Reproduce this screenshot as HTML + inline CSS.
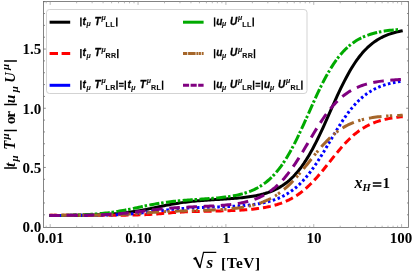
<!DOCTYPE html>
<html><head><meta charset="utf-8"><title>plot</title>
<style>
html,body{margin:0;padding:0;background:#fff;}
body{width:413px;height:271px;overflow:hidden;position:relative;}
svg{display:block;position:absolute;left:0;top:0;will-change:transform;}
text{font-family:"Liberation Serif",serif;font-weight:bold;fill:#000;}
.lg{font-family:"Liberation Sans",sans-serif;font-weight:bold;font-style:italic;font-size:10px;fill:#000;stroke:#000;stroke-width:0.3px;}
.lgs{font-family:"Liberation Sans",sans-serif;font-weight:bold;font-style:normal;font-size:7.1px;letter-spacing:0.35px;fill:#111;stroke:#111;stroke-width:0.15px;}
.lgm{font-family:"Liberation Sans",sans-serif;font-weight:bold;font-style:italic;font-size:7px;fill:#111;stroke:#111;stroke-width:0.15px;}
</style></head><body>
<svg width="413" height="271" viewBox="0 0 413 271">
<rect x="0" y="0" width="413" height="271" fill="#fff"/>

<g fill="none" stroke-linecap="butt" stroke-linejoin="round">
<path d="M49.30,215.54L51.07,215.53L52.83,215.52L54.60,215.51L56.37,215.51L58.13,215.50L59.90,215.49L61.67,215.48L63.44,215.46L65.20,215.45L66.97,215.44L68.74,215.42L70.50,215.40L72.27,215.39L74.04,215.36L75.80,215.34L77.57,215.32L79.34,215.29L81.11,215.26L82.87,215.23L84.64,215.20L86.41,215.16L88.17,215.12L89.94,215.07L91.71,215.02L93.47,214.97L95.24,214.91L97.01,214.85L98.78,214.78L100.54,214.71L102.31,214.63L104.08,214.54L105.84,214.44L107.61,214.34L109.38,214.23L111.14,214.11L112.91,213.99L114.68,213.85L116.45,213.70L118.21,213.54L119.98,213.37L121.75,213.19L123.51,213.00L125.28,212.79L127.05,212.57L128.81,212.34L130.58,212.10L132.35,211.84L134.12,211.57L135.88,211.29L137.65,210.99L139.42,210.68L141.18,210.37L142.95,210.04L144.72,209.70L146.49,209.35L148.25,209.00L150.02,208.63L151.79,208.27L153.55,207.90L155.32,207.53L157.09,207.16L158.85,206.79L160.62,206.42L162.39,206.05L164.16,205.70L165.92,205.34L167.69,205.00L169.46,204.66L171.22,204.34L172.99,204.02L174.76,203.72L176.52,203.43L178.29,203.15L180.06,202.88L181.82,202.63L183.59,202.38L185.36,202.15L187.13,201.93L188.89,201.72L190.66,201.53L192.43,201.34L194.19,201.16L195.96,201.00L197.73,200.84L199.50,200.69L201.26,200.55L203.03,200.41L204.80,200.28L206.56,200.16L208.33,200.04L210.10,199.93L211.86,199.82L213.63,199.71L215.40,199.60L217.17,199.49L218.93,199.39L220.70,199.28L222.47,199.18L224.23,199.07L226.00,198.96L227.77,198.84L229.53,198.73L231.30,198.60L233.07,198.47L234.83,198.33L236.60,198.19L238.37,198.03L240.14,197.87L241.90,197.69L243.67,197.50L245.44,197.29L247.20,197.07L248.97,196.83L250.74,196.57L252.50,196.29L254.27,195.98L256.04,195.65L257.81,195.29L259.57,194.90L261.34,194.48L263.11,194.02L264.87,193.52L266.64,192.97L268.41,192.38L270.18,191.74L271.94,191.05L273.71,190.30L275.48,189.48L277.24,188.59L279.01,187.64L280.78,186.60L282.54,185.48L284.31,184.27L286.08,182.97L287.84,181.57L289.61,180.06L291.38,178.44L293.15,176.71L294.91,174.86L296.68,172.87L298.45,170.76L300.21,168.52L301.98,166.13L303.75,163.61L305.51,160.95L307.28,158.14L309.05,155.20L310.82,152.12L312.58,148.91L314.35,145.57L316.12,142.11L317.88,138.53L319.65,134.86L321.42,131.10L323.19,127.26L324.95,123.36L326.72,119.42L328.49,115.44L330.25,111.45L332.02,107.47L333.79,103.51L335.55,99.59L337.32,95.72L339.09,91.93L340.85,88.21L342.62,84.60L344.39,81.09L346.16,77.70L347.92,74.44L349.69,71.31L351.46,68.31L353.22,65.46L354.99,62.75L356.76,60.19L358.52,57.77L360.29,55.49L362.06,53.35L363.83,51.34L365.59,49.46L367.36,47.71L369.13,46.08L370.89,44.56L372.66,43.15L374.43,41.85L376.19,40.64L377.96,39.53L379.73,38.50L381.50,37.55L383.26,36.67L385.03,35.87L386.80,35.13L388.56,34.45L390.33,33.83L392.10,33.26L393.87,32.74L395.63,32.26L397.40,31.82L399.17,31.42L400.93,31.05L402.70,30.71" stroke="#000000" stroke-width="3.0"/>
<path d="M49.30,215.27L51.07,215.27L52.83,215.27L54.60,215.27L56.37,215.27L58.13,215.27L59.90,215.27L61.67,215.27L63.44,215.27L65.20,215.27L66.97,215.27L68.74,215.27L70.50,215.27L72.27,215.27L74.04,215.27L75.80,215.27L77.57,215.27L79.34,215.27L81.11,215.27L82.87,215.27L84.64,215.27L86.41,215.27L88.17,215.26L89.94,215.26L91.71,215.26L93.47,215.26L95.24,215.26L97.01,215.26L98.78,215.26L100.54,215.25L102.31,215.25L104.08,215.25L105.84,215.24L107.61,215.24L109.38,215.23L111.14,215.23L112.91,215.22L114.68,215.21L116.45,215.20L118.21,215.19L119.98,215.18L121.75,215.17L123.51,215.15L125.28,215.13L127.05,215.11L128.81,215.09L130.58,215.06L132.35,215.03L134.12,214.99L135.88,214.95L137.65,214.90L139.42,214.85L141.18,214.79L142.95,214.72L144.72,214.65L146.49,214.57L148.25,214.48L150.02,214.38L151.79,214.28L153.55,214.16L155.32,214.04L157.09,213.91L158.85,213.77L160.62,213.63L162.39,213.49L164.16,213.34L165.92,213.19L167.69,213.05L169.46,212.90L171.22,212.76L172.99,212.62L174.76,212.49L176.52,212.37L178.29,212.26L180.06,212.15L181.82,212.05L183.59,211.96L185.36,211.87L187.13,211.79L188.89,211.72L190.66,211.65L192.43,211.59L194.19,211.54L195.96,211.49L197.73,211.44L199.50,211.40L201.26,211.35L203.03,211.31L204.80,211.27L206.56,211.24L208.33,211.20L210.10,211.16L211.86,211.12L213.63,211.08L215.40,211.04L217.17,211.00L218.93,210.96L220.70,210.91L222.47,210.87L224.23,210.81L226.00,210.76L227.77,210.70L229.53,210.64L231.30,210.57L233.07,210.50L234.83,210.42L236.60,210.33L238.37,210.24L240.14,210.14L241.90,210.03L243.67,209.91L245.44,209.79L247.20,209.65L248.97,209.50L250.74,209.34L252.50,209.16L254.27,208.97L256.04,208.77L257.81,208.54L259.57,208.30L261.34,208.04L263.11,207.76L264.87,207.45L266.64,207.12L268.41,206.76L270.18,206.38L271.94,205.96L273.71,205.51L275.48,205.02L277.24,204.50L279.01,203.93L280.78,203.33L282.54,202.67L284.31,201.97L286.08,201.22L287.84,200.41L289.61,199.54L291.38,198.61L293.15,197.62L294.91,196.57L296.68,195.44L298.45,194.25L300.21,192.98L301.98,191.64L303.75,190.22L305.51,188.73L307.28,187.16L309.05,185.51L310.82,183.79L312.58,181.99L314.35,180.13L316.12,178.20L317.88,176.21L319.65,174.16L321.42,172.07L323.19,169.93L324.95,167.75L326.72,165.55L328.49,163.34L330.25,161.11L332.02,158.89L333.79,156.68L335.55,154.49L337.32,152.33L339.09,150.22L340.85,148.14L342.62,146.13L344.39,144.17L346.16,142.28L347.92,140.47L349.69,138.73L351.46,137.06L353.22,135.48L354.99,133.98L356.76,132.57L358.52,131.23L360.29,129.98L362.06,128.80L363.83,127.70L365.59,126.67L367.36,125.72L369.13,124.83L370.89,124.01L372.66,123.25L374.43,122.54L376.19,121.89L377.96,121.30L379.73,120.75L381.50,120.24L383.26,119.78L385.03,119.35L386.80,118.96L388.56,118.61L390.33,118.28L392.10,117.98L393.87,117.71L395.63,117.46L397.40,117.24L399.17,117.03L400.93,116.84L402.70,116.67" stroke="#ff0000" stroke-width="3.0" stroke-dasharray="7.92 3.965" stroke-dashoffset="0"/>
<path d="M49.30,215.40L51.06,215.40L52.82,215.40L54.58,215.40L56.35,215.39L58.11,215.39L59.87,215.39L61.63,215.39L63.39,215.38L65.15,215.38L66.91,215.38L68.68,215.37L70.44,215.37L72.20,215.36L73.96,215.36L75.72,215.35L77.48,215.34L79.25,215.33L81.01,215.32L82.77,215.31L84.53,215.30L86.29,215.29L88.05,215.28L89.81,215.26L91.58,215.25L93.34,215.23L95.10,215.21L96.86,215.19L98.62,215.16L100.38,215.13L102.14,215.10L103.91,215.07L105.67,215.03L107.43,214.99L109.19,214.95L110.95,214.90L112.71,214.84L114.48,214.78L116.24,214.72L118.00,214.65L119.76,214.57L121.52,214.49L123.28,214.40L125.04,214.30L126.81,214.19L128.57,214.08L130.33,213.95L132.09,213.82L133.85,213.68L135.61,213.53L137.38,213.37L139.14,213.20L140.90,213.03L142.66,212.84L144.42,212.65L146.18,212.45L147.94,212.25L149.71,212.04L151.47,211.82L153.23,211.61L154.99,211.39L156.75,211.17L158.51,210.95L160.27,210.73L162.04,210.52L163.80,210.30L165.56,210.10L167.32,209.90L169.08,209.71L170.84,209.52L172.61,209.34L174.37,209.17L176.13,209.01L177.89,208.86L179.65,208.71L181.41,208.58L183.17,208.45L184.94,208.33L186.70,208.21L188.46,208.11L190.22,208.01L191.98,207.92L193.74,207.83L195.50,207.75L197.27,207.67L199.03,207.59L200.79,207.52L202.55,207.46L204.31,207.39L206.07,207.33L207.83,207.27L209.60,207.21L211.36,207.15L213.12,207.09L214.88,207.03L216.64,206.97L218.40,206.91L220.17,206.85L221.93,206.79L223.69,206.72L225.45,206.65L227.21,206.57L228.97,206.49L230.73,206.41L232.50,206.32L234.26,206.22L236.02,206.12L237.78,206.00L239.54,205.88L241.30,205.75L243.06,205.61L244.83,205.46L246.59,205.29L248.35,205.12L250.11,204.92L251.87,204.71L253.63,204.48L255.40,204.23L257.16,203.97L258.92,203.67L260.68,203.36L262.44,203.01L264.20,202.64L265.96,202.24L267.73,201.80L269.49,201.32L271.25,200.81L273.01,200.25L274.77,199.65L276.53,198.99L278.30,198.29L280.06,197.53L281.82,196.71L283.58,195.82L285.34,194.87L287.10,193.85L288.86,192.75L290.63,191.57L292.39,190.30L294.15,188.95L295.91,187.51L297.67,185.97L299.43,184.33L301.19,182.60L302.96,180.76L304.72,178.82L306.48,176.77L308.24,174.62L310.00,172.37L311.76,170.02L313.53,167.57L315.29,165.02L317.05,162.40L318.81,159.69L320.57,156.91L322.33,154.07L324.09,151.18L325.86,148.24L327.62,145.28L329.38,142.30L331.14,139.32L332.90,136.35L334.66,133.41L336.42,130.50L338.19,127.63L339.95,124.83L341.71,122.09L343.47,119.44L345.23,116.87L346.99,114.39L348.75,112.01L350.52,109.74L352.28,107.57L354.04,105.51L355.80,103.56L357.56,101.72L359.32,99.98L361.09,98.35L362.85,96.83L364.61,95.41L366.37,94.08L368.13,92.84L369.89,91.69L371.65,90.63L373.42,89.65L375.18,88.74L376.94,87.90L378.70,87.12L380.46,86.41L382.22,85.76L383.99,85.16L385.75,84.61L387.51,84.10L389.27,83.64L391.03,83.22L392.79,82.83L394.55,82.48L396.32,82.15L398.08,81.86L399.84,81.59L401.60,81.34" stroke="#0000ff" stroke-width="3.0" stroke-dasharray="2.6 2.5" stroke-dashoffset="0"/>
<path d="M49.30,215.55L51.05,215.53L52.81,215.51L54.56,215.49L56.32,215.47L58.07,215.45L59.83,215.42L61.58,215.40L63.34,215.36L65.09,215.33L66.85,215.29L68.60,215.26L70.36,215.21L72.11,215.17L73.87,215.11L75.62,215.06L77.38,215.00L79.13,214.94L80.89,214.86L82.64,214.79L84.40,214.71L86.16,214.62L87.91,214.52L89.66,214.42L91.42,214.31L93.17,214.19L94.93,214.06L96.69,213.92L98.44,213.77L100.19,213.61L101.95,213.44L103.70,213.26L105.46,213.07L107.22,212.87L108.97,212.65L110.72,212.42L112.48,212.18L114.23,211.92L115.99,211.66L117.74,211.38L119.50,211.09L121.25,210.78L123.01,210.47L124.77,210.15L126.52,209.81L128.27,209.47L130.03,209.12L131.78,208.76L133.54,208.40L135.30,208.03L137.05,207.67L138.81,207.30L140.56,206.93L142.31,206.56L144.07,206.19L145.82,205.83L147.58,205.48L149.33,205.13L151.09,204.79L152.84,204.46L154.60,204.14L156.36,203.82L158.11,203.52L159.87,203.23L161.62,202.96L163.38,202.69L165.13,202.44L166.88,202.19L168.64,201.96L170.39,201.74L172.15,201.53L173.91,201.33L175.66,201.14L177.42,200.97L179.17,200.79L180.93,200.63L182.68,200.48L184.44,200.33L186.19,200.19L187.94,200.05L189.70,199.92L191.45,199.80L193.21,199.67L194.96,199.55L196.72,199.43L198.48,199.32L200.23,199.20L201.99,199.08L203.74,198.97L205.50,198.85L207.25,198.72L209.00,198.60L210.76,198.46L212.51,198.33L214.27,198.18L216.02,198.03L217.78,197.87L219.54,197.70L221.29,197.52L223.05,197.32L224.80,197.11L226.56,196.89L228.31,196.65L230.06,196.39L231.82,196.10L233.57,195.80L235.33,195.46L237.08,195.10L238.84,194.71L240.59,194.29L242.35,193.83L244.11,193.33L245.86,192.79L247.62,192.21L249.37,191.57L251.12,190.88L252.88,190.13L254.63,189.32L256.39,188.45L258.14,187.50L259.90,186.48L261.65,185.37L263.41,184.18L265.17,182.89L266.92,181.50L268.68,180.02L270.43,178.42L272.19,176.71L273.94,174.88L275.69,172.92L277.45,170.84L279.20,168.63L280.96,166.28L282.71,163.79L284.47,161.16L286.23,158.40L287.98,155.50L289.74,152.46L291.49,149.29L293.25,146.00L295.00,142.59L296.75,139.06L298.51,135.44L300.26,131.72L302.02,127.93L303.77,124.08L305.53,120.18L307.29,116.25L309.04,112.31L310.80,108.37L312.55,104.44L314.31,100.55L316.06,96.72L317.81,92.95L319.57,89.26L321.32,85.67L323.08,82.18L324.84,78.80L326.59,75.55L328.35,72.43L330.10,69.45L331.86,66.60L333.61,63.89L335.37,61.33L337.12,58.90L338.88,56.62L340.63,54.47L342.38,52.46L344.14,50.57L345.90,48.81L347.65,47.18L349.41,45.65L351.16,44.23L352.92,42.92L354.67,41.70L356.43,40.58L358.18,39.54L359.94,38.58L361.69,37.70L363.44,36.89L365.20,36.14L366.95,35.46L368.71,34.83L370.47,34.25L372.22,33.72L373.98,33.23L375.73,32.79L377.49,32.38L379.24,32.01L381.00,31.67L382.75,31.36L384.50,31.07L386.26,30.81L388.01,30.58L389.77,30.36L391.53,30.16L393.28,29.98L395.04,29.82L396.79,29.66L398.55,29.53L400.30,29.40" stroke="#00aa00" stroke-width="3.0" stroke-dasharray="10.15 1.79 2.49 2.384" stroke-dashoffset="0"/>
<path d="M402.70,115.26L400.93,115.32L399.17,115.38L397.40,115.45L395.63,115.53L393.87,115.61L392.10,115.71L390.33,115.81L388.56,115.92L386.80,116.04L385.03,116.18L383.26,116.32L381.50,116.49L379.73,116.67L377.96,116.86L376.19,117.08L374.43,117.31L372.66,117.57L370.89,117.86L369.13,118.17L367.36,118.51L365.59,118.88L363.83,119.28L362.06,119.72L360.29,120.21L358.52,120.73L356.76,121.30L354.99,121.93L353.22,122.60L351.46,123.33L349.69,124.12L347.92,124.97L346.16,125.89L344.39,126.88L342.62,127.94L340.86,129.08L339.09,130.30L337.32,131.59L335.55,132.97L333.79,134.43L332.02,135.97L330.25,137.59L328.49,139.30L326.72,141.08L324.95,142.93L323.19,144.86L321.42,146.85L319.65,148.90L317.88,151.00L316.12,153.14L314.35,155.32L312.58,157.52L310.82,159.74L309.05,161.97L307.28,164.19L305.51,166.40L303.75,168.59L301.98,170.75L300.21,172.87L298.45,174.94L296.68,176.95L294.91,178.91L293.15,180.81L291.38,182.63L289.61,184.38L287.84,186.06L286.08,187.66L284.31,189.19L282.54,190.64L280.78,192.01L279.01,193.30L277.24,194.53L275.48,195.68L273.71,196.76L271.94,197.77L270.17,198.72L268.41,199.60L266.64,200.43L264.87,201.20L263.11,201.92L261.34,202.59L259.57,203.21L257.81,203.79L256.04,204.33L254.27,204.82L252.50,205.28L250.74,205.71L248.97,206.10L247.20,206.47L245.44,206.81L243.67,207.12L241.90,207.41L240.14,207.67L238.37,207.92L236.60,208.14L234.83,208.35L233.07,208.55L231.30,208.73L229.53,208.89L227.77,209.05L226.00,209.19L224.23,209.32L222.47,209.44L220.70,209.55L218.93,209.65L217.16,209.75L215.40,209.84L213.63,209.92L211.86,210.00L210.10,210.08L208.33,210.14L206.56,210.21L204.80,210.27L203.03,210.33L201.26,210.38L199.49,210.44L197.73,210.49L195.96,210.54L194.19,210.59L192.43,210.64L190.66,210.69L188.89,210.74L187.13,210.79L185.36,210.84L183.59,210.89L181.82,210.95L180.06,211.01L178.29,211.07L176.52,211.13L174.76,211.20L172.99,211.27L171.22,211.34L169.46,211.42L167.69,211.51L165.92,211.60L164.16,211.69L162.39,211.79L160.62,211.90L158.85,212.01L157.09,212.12L155.32,212.24L153.55,212.36L151.79,212.49L150.02,212.62L148.25,212.75L146.49,212.88L144.72,213.02L142.95,213.15L141.18,213.28L139.42,213.41L137.65,213.54L135.88,213.67L134.12,213.79L132.35,213.90L130.58,214.01L128.81,214.12L127.05,214.22L125.28,214.31L123.51,214.40L121.75,214.48L119.98,214.56L118.21,214.63L116.45,214.70L114.68,214.76L112.91,214.82L111.15,214.87L109.38,214.91L107.61,214.96L105.84,214.99L104.08,215.03L102.31,215.06L100.54,215.09L98.78,215.12L97.01,215.14L95.24,215.16L93.48,215.18L91.71,215.20L89.94,215.21L88.17,215.23L86.41,215.24L84.64,215.25L82.87,215.26L81.11,215.27L79.34,215.28L77.57,215.28L75.81,215.29L74.04,215.29L72.27,215.30L70.50,215.30L68.74,215.31L66.97,215.31L65.20,215.32L63.44,215.32L61.67,215.32L59.90,215.32L58.13,215.33L56.37,215.33L54.60,215.33L52.83,215.33L51.07,215.33L49.30,215.33" stroke="#a5662a" stroke-width="3.0" stroke-dasharray="12.7 5 2.4 1.3 2.4 4.6" stroke-dashoffset="7.2"/>
<path d="M49.30,215.43L51.07,215.43L52.83,215.43L54.60,215.42L56.37,215.41L58.13,215.41L59.90,215.40L61.67,215.39L63.44,215.39L65.20,215.38L66.97,215.37L68.74,215.36L70.50,215.34L72.27,215.33L74.04,215.31L75.80,215.30L77.57,215.28L79.34,215.26L81.11,215.24L82.87,215.21L84.64,215.19L86.41,215.16L88.17,215.12L89.94,215.09L91.71,215.05L93.47,215.01L95.24,214.96L97.01,214.91L98.78,214.85L100.54,214.79L102.31,214.72L104.08,214.65L105.84,214.57L107.61,214.48L109.38,214.39L111.14,214.29L112.91,214.18L114.68,214.07L116.45,213.94L118.21,213.81L119.98,213.67L121.75,213.52L123.51,213.36L125.28,213.19L127.05,213.02L128.81,212.83L130.58,212.64L132.35,212.44L134.12,212.24L135.88,212.03L137.65,211.81L139.42,211.59L141.18,211.37L142.95,211.14L144.72,210.92L146.49,210.70L148.25,210.47L150.02,210.25L151.79,210.04L153.55,209.83L155.32,209.62L157.09,209.42L158.85,209.23L160.62,209.04L162.39,208.86L164.16,208.69L165.92,208.53L167.69,208.38L169.46,208.23L171.22,208.09L172.99,207.96L174.76,207.84L176.52,207.72L178.29,207.61L180.06,207.51L181.82,207.41L183.59,207.31L185.36,207.22L187.13,207.14L188.89,207.05L190.66,206.97L192.43,206.90L194.19,206.82L195.96,206.75L197.73,206.67L199.50,206.60L201.26,206.52L203.03,206.45L204.80,206.37L206.56,206.29L208.33,206.20L210.10,206.11L211.86,206.02L213.63,205.92L215.40,205.82L217.17,205.71L218.93,205.59L220.70,205.46L222.47,205.32L224.23,205.17L226.00,205.01L227.77,204.84L229.53,204.65L231.30,204.44L233.07,204.22L234.83,203.98L236.60,203.72L238.37,203.43L240.14,203.12L241.90,202.78L243.67,202.41L245.44,202.01L247.20,201.58L248.97,201.10L250.74,200.59L252.50,200.03L254.27,199.43L256.04,198.77L257.81,198.06L259.57,197.29L261.34,196.46L263.11,195.56L264.87,194.59L266.64,193.55L268.41,192.43L270.18,191.22L271.94,189.93L273.71,188.54L275.48,187.07L277.24,185.49L279.01,183.81L280.78,182.03L282.54,180.15L284.31,178.16L286.08,176.06L287.84,173.86L289.61,171.56L291.38,169.15L293.15,166.65L294.91,164.06L296.68,161.39L298.45,158.65L300.21,155.83L301.98,152.96L303.75,150.05L305.51,147.10L307.28,144.13L309.05,141.15L310.82,138.18L312.58,135.22L314.35,132.29L316.12,129.41L317.88,126.58L319.65,123.81L321.42,121.11L323.19,118.50L324.95,115.98L326.72,113.55L328.49,111.22L330.25,109.00L332.02,106.88L333.79,104.86L335.55,102.96L337.32,101.16L339.09,99.47L340.85,97.88L342.62,96.39L344.39,95.00L346.16,93.70L347.92,92.49L349.69,91.36L351.46,90.32L353.22,89.36L354.99,88.46L356.76,87.64L358.52,86.88L360.29,86.17L362.06,85.53L363.83,84.93L365.59,84.39L367.36,83.89L369.13,83.43L370.89,83.00L372.66,82.62L374.43,82.26L376.19,81.94L377.96,81.64L379.73,81.37L381.50,81.12L383.26,80.90L385.03,80.69L386.80,80.50L388.56,80.33L390.33,80.17L392.10,80.03L393.87,79.90L395.63,79.78L397.40,79.67L399.17,79.57L400.93,79.48L402.70,79.40" stroke="#800080" stroke-width="3.0" stroke-dasharray="10.63 6.557" stroke-dashoffset="0"/>
</g>
<g stroke="#666" stroke-width="0.8" fill="none">
<rect x="43.5" y="1.5" width="365.0" height="226.0"/>
<path d="M46.18,227.5v-1.8M46.18,1.5v1.8M50.20,227.5v-3.4M50.20,1.5v3.4M76.65,227.5v-1.8M76.65,1.5v1.8M92.12,227.5v-1.8M92.12,1.5v1.8M103.09,227.5v-1.8M103.09,1.5v1.8M111.60,227.5v-1.8M111.60,1.5v1.8M118.56,227.5v-1.8M118.56,1.5v1.8M124.44,227.5v-1.8M124.44,1.5v1.8M129.54,227.5v-1.8M129.54,1.5v1.8M134.03,227.5v-1.8M134.03,1.5v1.8M138.05,227.5v-3.4M138.05,1.5v3.4M164.50,227.5v-1.8M164.50,1.5v1.8M179.97,227.5v-1.8M179.97,1.5v1.8M190.94,227.5v-1.8M190.94,1.5v1.8M199.45,227.5v-1.8M199.45,1.5v1.8M206.41,227.5v-1.8M206.41,1.5v1.8M212.29,227.5v-1.8M212.29,1.5v1.8M217.39,227.5v-1.8M217.39,1.5v1.8M221.88,227.5v-1.8M221.88,1.5v1.8M225.90,227.5v-3.4M225.90,1.5v3.4M252.35,227.5v-1.8M252.35,1.5v1.8M267.82,227.5v-1.8M267.82,1.5v1.8M278.79,227.5v-1.8M278.79,1.5v1.8M287.30,227.5v-1.8M287.30,1.5v1.8M294.26,227.5v-1.8M294.26,1.5v1.8M300.14,227.5v-1.8M300.14,1.5v1.8M305.24,227.5v-1.8M305.24,1.5v1.8M309.73,227.5v-1.8M309.73,1.5v1.8M313.75,227.5v-3.4M313.75,1.5v3.4M340.20,227.5v-1.8M340.20,1.5v1.8M355.67,227.5v-1.8M355.67,1.5v1.8M366.64,227.5v-1.8M366.64,1.5v1.8M375.15,227.5v-1.8M375.15,1.5v1.8M382.11,227.5v-1.8M382.11,1.5v1.8M387.99,227.5v-1.8M387.99,1.5v1.8M393.09,227.5v-1.8M393.09,1.5v1.8M397.58,227.5v-1.8M397.58,1.5v1.8M401.60,227.5v-3.4M401.60,1.5v3.4" stroke="#9a9a9a" stroke-width="0.7"/>
<path d="M43.5,214.81h1.5M408.5,214.81h-1.5M43.5,202.97h1.5M408.5,202.97h-1.5M43.5,191.13h1.5M408.5,191.13h-1.5M43.5,179.29h1.5M408.5,179.29h-1.5M43.5,167.45h2.3M408.5,167.45h-2.3M43.5,155.61h1.5M408.5,155.61h-1.5M43.5,143.77h1.5M408.5,143.77h-1.5M43.5,131.93h1.5M408.5,131.93h-1.5M43.5,120.09h1.5M408.5,120.09h-1.5M43.5,108.25h2.3M408.5,108.25h-2.3M43.5,96.41h1.5M408.5,96.41h-1.5M43.5,84.57h1.5M408.5,84.57h-1.5M43.5,72.73h1.5M408.5,72.73h-1.5M43.5,60.89h1.5M408.5,60.89h-1.5M43.5,49.05h2.3M408.5,49.05h-2.3M43.5,37.21h1.5M408.5,37.21h-1.5M43.5,25.37h1.5M408.5,25.37h-1.5M43.5,13.53h1.5M408.5,13.53h-1.5M43.5,1.69h1.5M408.5,1.69h-1.5" stroke="#707070" stroke-width="0.8"/>
</g>
<rect x="46.5" y="9.5" width="260.5" height="84" rx="3" ry="3" fill="#fff" stroke="#c8c8c8" stroke-width="0.8"/>
<path d="M49.6,22.2H70.2" stroke="#000000" stroke-width="3.0" fill="none"/>
<path d="M183,22.2H203.6" stroke="#00aa00" stroke-width="3.0" fill="none"/>
<path d="M49.6,53.5H70.2" stroke="#ff0000" stroke-width="3.0" fill="none" stroke-dasharray="8.4 3.6 8.6 9"/>
<path d="M183,53.5H203.6" stroke="#a5662a" stroke-width="3.0" fill="none" stroke-dasharray="4.3 0.8 7.5 0.8 2.1 0.5 1.9 0.8 2.5 9"/>
<path d="M49.6,85.3H70.2" stroke="#0000ff" stroke-width="3.0" fill="none"/>
<path d="M183,85.3H203.6" stroke="#800080" stroke-width="3.0" fill="none" stroke-dasharray="6.1 1.5"/>
<path d="M80.90,17.40V26.60" stroke="#000" stroke-width="1.45" fill="none"/><text x="82.60" y="24.70" class="lg" >t</text><text x="86.50" y="26.30" class="lgm" >μ</text><text x="94.60" y="24.70" class="lg" >T</text><text x="101.60" y="20.00" class="lgm" >μ</text><text x="105.60" y="26.60" class="lgs" >LL</text><path d="M116.80,17.40V26.60" stroke="#000" stroke-width="1.45" fill="none"/>
<path d="M80.90,49.10V58.30" stroke="#000" stroke-width="1.45" fill="none"/><text x="82.60" y="56.40" class="lg" >t</text><text x="86.50" y="58.00" class="lgm" >μ</text><text x="94.60" y="56.40" class="lg" >T</text><text x="101.60" y="51.70" class="lgm" >μ</text><text x="105.60" y="58.30" class="lgs" >RR</text><path d="M117.80,49.10V58.30" stroke="#000" stroke-width="1.45" fill="none"/>
<path d="M214.60,17.40V26.60" stroke="#000" stroke-width="1.45" fill="none"/><text x="216.20" y="24.70" class="lg" >u</text><text x="222.10" y="26.30" class="lgm" >μ</text><text x="229.90" y="24.70" class="lg" >U</text><text x="238.00" y="20.00" class="lgm" >μ</text><text x="242.30" y="26.60" class="lgs" >LL</text><path d="M253.20,17.40V26.60" stroke="#000" stroke-width="1.45" fill="none"/>
<path d="M214.60,49.10V58.30" stroke="#000" stroke-width="1.45" fill="none"/><text x="216.20" y="56.40" class="lg" >u</text><text x="222.10" y="58.00" class="lgm" >μ</text><text x="229.90" y="56.40" class="lg" >U</text><text x="238.00" y="51.70" class="lgm" >μ</text><text x="242.30" y="58.30" class="lgs" >RR</text><path d="M254.50,49.10V58.30" stroke="#000" stroke-width="1.45" fill="none"/>
<path d="M80.90,80.60V89.80" stroke="#000" stroke-width="1.45" fill="none"/><text x="82.60" y="87.90" class="lg" >t</text><text x="86.50" y="89.50" class="lgm" >μ</text><text x="94.60" y="87.90" class="lg" >T</text><text x="101.60" y="83.20" class="lgm" >μ</text><text x="105.60" y="89.80" class="lgs" >LR</text><path d="M117.00,80.60V89.80" stroke="#000" stroke-width="1.45" fill="none"/>
<path d="M118.90,83.50h4.8M118.90,86.05h4.8" stroke="#000" stroke-width="1.3" fill="none"/>
<path d="M125.30,80.60V89.80" stroke="#000" stroke-width="1.45" fill="none"/><text x="127.40" y="87.90" class="lg" >t</text><text x="131.30" y="89.50" class="lgm" >μ</text><text x="139.80" y="87.90" class="lg" >T</text><text x="146.80" y="83.20" class="lgm" >μ</text><text x="151.12" y="89.80" class="lgs" >RL</text><path d="M162.60,80.60V89.80" stroke="#000" stroke-width="1.45" fill="none"/>
<path d="M214.60,80.60V89.80" stroke="#000" stroke-width="1.45" fill="none"/><text x="216.20" y="87.90" class="lg" >u</text><text x="222.10" y="89.50" class="lgm" >μ</text><text x="229.90" y="87.90" class="lg" >U</text><text x="238.00" y="83.20" class="lgm" >μ</text><text x="242.30" y="89.80" class="lgs" >LR</text><path d="M253.60,80.60V89.80" stroke="#000" stroke-width="1.45" fill="none"/>
<path d="M255.50,83.50h4.8M255.50,86.05h4.8" stroke="#000" stroke-width="1.3" fill="none"/>
<path d="M262.20,80.60V89.80" stroke="#000" stroke-width="1.45" fill="none"/><text x="264.05" y="87.90" class="lg" >u</text><text x="269.95" y="89.50" class="lgm" >μ</text><text x="278.00" y="87.90" class="lg" >U</text><text x="286.10" y="83.20" class="lgm" >μ</text><text x="290.60" y="89.80" class="lgs" >RL</text><path d="M301.90,80.60V89.80" stroke="#000" stroke-width="1.45" fill="none"/>
<text x="50.5" y="243" font-size="15" text-anchor="middle">0.01</text>
<text x="138.4" y="243" font-size="15" text-anchor="middle">0.10</text>
<text x="226.2" y="243" font-size="15" text-anchor="middle">1</text>
<text x="314.1" y="243" font-size="15" text-anchor="middle">10</text>
<text x="401.1" y="243" font-size="15" text-anchor="middle">100</text>
<text x="41.2" y="232.4" font-size="15" text-anchor="end">0.0</text>
<text x="41.2" y="172.6" font-size="15" text-anchor="end">0.5</text>
<text x="41.2" y="113.5" font-size="15" text-anchor="end">1.0</text>
<text x="41.2" y="54.2" font-size="15" text-anchor="end">1.5</text>
<text x="206.6" y="267.6" font-size="17" font-style="italic">s</text>
<text x="221.0" y="267.7" font-size="15.3" letter-spacing="0.55">[TeV]</text>
<path d="M193.6,259.1 L195.6,258.0 L199.9,267.6" fill="none" stroke="#000" stroke-width="1.9" stroke-linejoin="miter"/>
<path d="M199.9,268.2 L203.5,252.3 H216.3" fill="none" stroke="#000" stroke-width="1.2" stroke-linejoin="miter"/>
<text x="354.6" y="187.6" font-size="16" font-style="italic">x</text><text x="362.6" y="190.5" font-size="10.5" font-style="italic">H</text><path d="M372.8,183.1h8.6M372.8,185.9h8.6" stroke="#000" stroke-width="1.5" fill="none"/><text x="382.4" y="187.6" font-size="15">1</text>
<path d="M4.1,168.1H16.9M4.1,130.6H16.9M4.1,104.6H16.9M4.1,60.9H16.9" stroke="#000" stroke-width="1.5" fill="none"/>
<g transform="translate(14.8,169.7) rotate(-90)"><text x="2.60" y="0.00" font-size="15.5" font-style="italic">t</text><text x="8.20" y="3.20" font-size="11" font-style="italic">μ</text><text transform="translate(20.00,0.00) scale(0.9,1)" font-size="16.5" font-style="italic">T</text><text x="30.30" y="-6.00" font-size="11" font-style="italic">μ</text><text x="45.50" y="0.00" font-size="15.5" font-style="normal" letter-spacing="-1.2">or</text><text x="66.40" y="0.00" font-size="15.5" font-style="italic">u</text><text x="77.50" y="3.20" font-size="11" font-style="italic">μ</text><text transform="translate(87.00,0.00) scale(0.93,1)" font-size="15.5" font-style="italic">U</text><text x="99.70" y="-6.00" font-size="11" font-style="italic">μ</text></g>
</svg></body></html>
